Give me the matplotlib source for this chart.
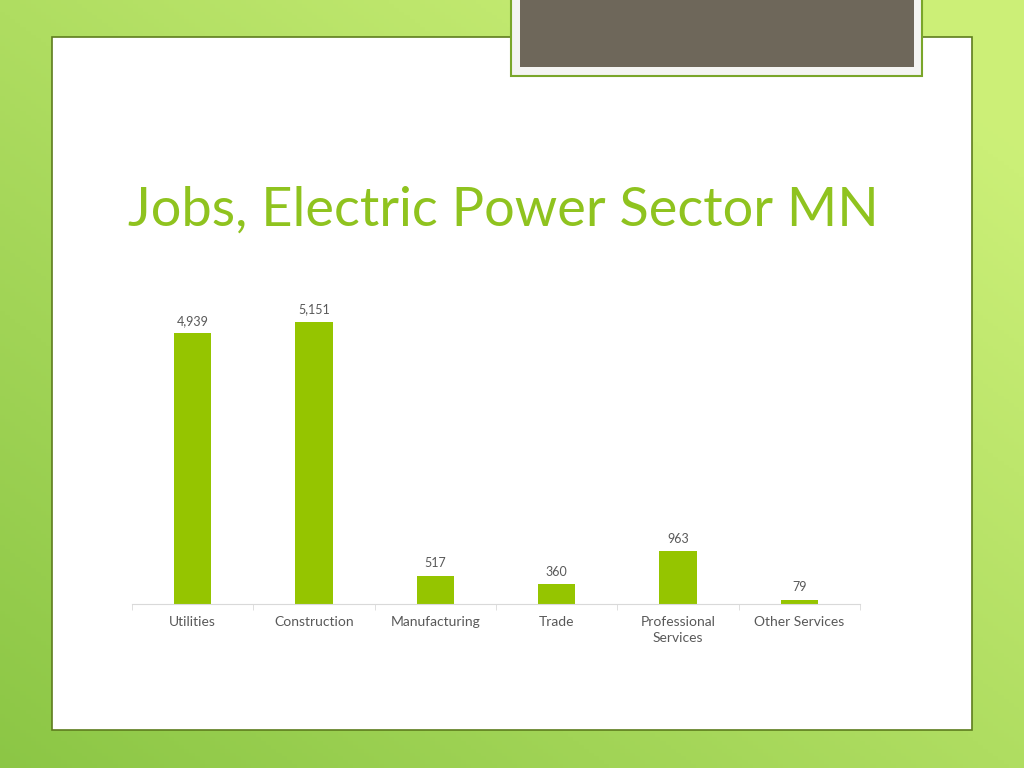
import matplotlib.pyplot as plt
import numpy as np
from matplotlib.patches import Rectangle

categories = ['Utilities', 'Construction', 'Manufacturing', 'Trade', 'Professional\nServices', 'Other Services']
jobs = [4939, 5151, 517, 360, 963, 79]

fig = plt.figure(figsize=(10.24, 7.68), dpi=100)

# slide background: green gradient (light top-right, darker bottom-left)
bg = fig.add_axes([0, 0, 1, 1])
bg.set_axis_off()
yy, xx = np.mgrid[0:1:200j, 0:1:200j]
t = np.clip(0.5 * xx + 0.5 * (1 - yy) + 0.1, 0, 1)
dark = np.array([0.52, 0.76, 0.25])
light = np.array([0.80, 0.94, 0.47])
img = dark[None, None, :] * (1 - t[..., None]) + light[None, None, :] * t[..., None]
bg.imshow(img, extent=[0, 1024, 0, 768], origin='lower', aspect='auto')
bg.set_xlim(0, 1024)
bg.set_ylim(768, 0)

# white content panel
bg.add_patch(Rectangle((52, 37), 920, 693, facecolor='white', edgecolor='#5e7d1e', lw=1.2))
# header box at top
bg.add_patch(Rectangle((511, -5), 411, 81, facecolor='#f4f4f2', edgecolor='#7aa62a', lw=1.5))
bg.add_patch(Rectangle((520, -5), 394, 72, facecolor='#6e675a', edgecolor='none'))

bg.text(128, 210, 'Jobs, Electric Power Sector MN', fontsize=39, color='#8fc31f',
        family='Lato', va='center', ha='left')

# bar chart
ax = fig.add_axes([132 / 1024, 1 - 604 / 768, 728 / 1024, 304 / 768])
x = np.arange(len(categories))
bars = ax.bar(x, jobs, width=0.31, color='#95c500')
ax.set_xlim(-0.5, len(categories) - 0.5)
ax.set_ylim(0, 5550)
for xi, v in zip(x, jobs):
    ax.text(xi, v + 120, f'{v:,}', ha='center', va='bottom', fontsize=9, color='#595959', family='Lato')
ax.set_xticks(x)
ax.set_xticklabels(categories, fontsize=10, color='#595959', family='Lato', linespacing=1.4)
ax.set_xticks(np.arange(len(categories) + 1) - 0.5, minor=True)
ax.tick_params(axis='x', which='major', length=0, pad=9)
ax.tick_params(axis='x', which='minor', length=4, color='#d9d9d9')
ax.set_yticks([])
for s in ['top', 'left', 'right']:
    ax.spines[s].set_visible(False)
ax.spines['bottom'].set_color('#d9d9d9')
ax.patch.set_alpha(0)

fig.savefig('out.png', dpi=100)
